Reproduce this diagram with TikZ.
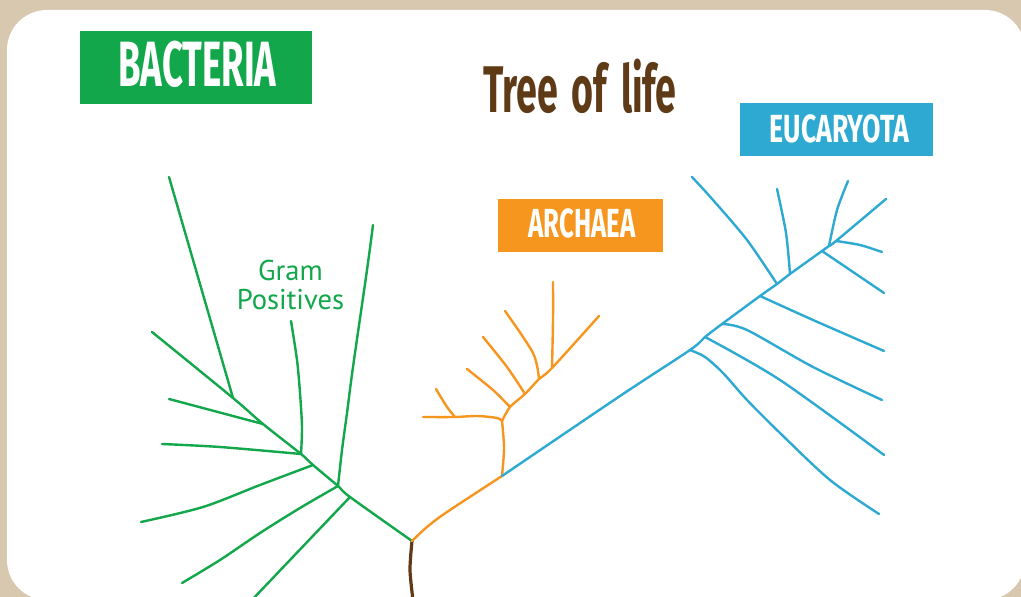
\documentclass[tikz,border=0pt]{standalone}
\usepackage{fontspec}
\setmainfont{PT Sans}
\newfontfamily\tagfont[FakeStretch=0.57]{Fira Sans}
\definecolor{paperbeige}{HTML}{D8C8B0}
\definecolor{bactgreen}{HTML}{12A74B}
\definecolor{archorange}{HTML}{F7961F}
\definecolor{eucblue}{HTML}{2EAAD2}
\definecolor{rootbrown}{HTML}{5E3A16}
\tikzset{
  bact/.style={bactgreen, line width=1.2pt, line cap=round, line join=round},
  arch/.style={archorange, line width=1.2pt, line cap=round, line join=round},
  euk/.style={eucblue, line width=1.2pt, line cap=round, line join=round},
  tagtext/.style={text=white, inner sep=0pt, anchor=base}
}
\newcommand{\kingdomtag}[8]{%
  \fill[#2] (#3) rectangle (#4);
  \node[tagtext, font=\tagfont\bfseries\addfontfeatures{FakeStretch=#7}\fontsize{#6}{#6}\selectfont]
    (#1) at (#5) {#8};
}

\begin{document}
\begin{tikzpicture}[x=0.5pt, y=-0.5pt]
  % ---------- Paper and panel ----------
  \fill[paperbeige] (0,0) rectangle (1021,597);
  \useasboundingbox (0,0) rectangle (1021,597);
  \fill[white, rounded corners=20pt] (7,10) rectangle (1025,600);

  % ---------- Labels ----------
  \node[font=\tagfont\bfseries\fontsize{33}{33}\selectfont,
    text=rootbrown, anchor=base, inner sep=0pt] (treetitle) at (580,113)
    {Tree\hspace{2.5pt} of\hspace{2.5pt} li{}fe};
  \kingdomtag{bacteria}{bactgreen}{80,31}{312,104}{197.5,87}{32}{0.57}{BACTERIA}
  \kingdomtag{eucaryota}{eucblue}{740,103}{933,156}{839.5,143}{19.6}{0.68}{EUCARYOTA}
  \kingdomtag{archaea}{archorange}{498,199}{663,252}{582,238}{20.3}{0.635}{ARCHAEA}
  \node[font=\fontsize{14.3}{14.5}\selectfont, text=bactgreen, align=center]
    (grampos) at (290.5,285) {Gram\\Positives};

  % ---------- Root ----------
  \coordinate (root) at (412,541);
  \draw[rootbrown, line width=1.6pt] plot[smooth] coordinates {(root) (410,570) (413,600)};

  % ---------- Bacteria ----------
  \coordinate (g6) at (350,497);
  \coordinate (g5) at (338,486);
  \coordinate (g4) at (313,465);
  \coordinate (g3) at (301,454);
  \coordinate (g2) at (263,424);
  \coordinate (g1) at (233,398);
  \coordinate (gtip) at (152,332);
  \draw[bact] plot[smooth] coordinates {(root) (g6) (g5) (g4) (g3) (g2) (g1) (gtip)};
  \draw[bact] (g1) -- (169,177);
  \draw[bact] (g2) -- (169,399);
  \draw[bact] plot[smooth] coordinates {(g3) (302,427) (300,393) (297,360) (291,321)};
  \draw[bact] plot[smooth] coordinates {(g3) (220,447) (162,444)};
  \draw[bact] plot[smooth] coordinates {(g4) (260,485) (203,507) (141,522)};
  \draw[bact] plot[smooth] coordinates {(g5) (342,450) (347,413) (353,367) (367,270) (373,225)};
  \draw[bact] plot[smooth] coordinates {(g5) (300,508) (260,533) (220,560) (182,583)};
  \draw[bact] (g6) -- (250,602);

  % ---------- Archaea ----------
  \coordinate (a1) at (502,476);
  \coordinate (a2) at (502,421);
  \coordinate (a3) at (455,417);
  \coordinate (b1) at (510,407);
  \coordinate (b2) at (525,394);
  \coordinate (b3) at (539,379);
  \coordinate (b4) at (552,368);
  \draw[arch] plot[smooth] coordinates {(root) (427,527) (447,512) (a1)};
  \draw[arch] plot[smooth] coordinates {(a1) (504,448) (a2)};
  \draw[arch] plot[smooth] coordinates {(a2) (497,418) (477,416) (a3) (423,417)};
  \draw[arch] plot[smooth] coordinates {(a3) (447,407) (436,389)};
  \draw[arch] plot[smooth] coordinates {(a2) (b1) (b2) (b3) (b4) (599,316)};
  \draw[arch] plot[smooth] coordinates {(b1) (493,390) (467,369)};
  \draw[arch] plot[smooth] coordinates {(b2) (507,367) (483,337)};
  \draw[arch] plot[smooth] coordinates {(b3) (533,353) (505,311)};
  \draw[arch] plot[smooth] coordinates {(b4) (553,320) (553,282)};

  % ---------- Eucaryota ----------
  \coordinate (e1) at (690,350);
  \coordinate (e2) at (705,337);
  \coordinate (e3) at (722,324);
  \coordinate (e4) at (760,296);
  \coordinate (e5) at (777,284);
  \coordinate (e6) at (790,274);
  \coordinate (e7) at (822,251);
  \coordinate (e8) at (829,246);
  \coordinate (e9) at (836,241);
  \draw[euk] plot[smooth] coordinates {(a1) (620,396) (e1) (e2) (e3) (e4) (e5) (e6) (e7) (e8) (e9) (886,199)};
  \draw[euk] plot[smooth] coordinates {(e1) (705,357) (723,373) (747,400) (780,433) (830,480) (879,514)};
  \draw[euk] plot[smooth] coordinates {(e2) (780,380) (884,455)};
  \draw[euk] plot[smooth] coordinates {(e3) (747,330) (813,367) (882,400)};
  \draw[euk] plot[smooth] coordinates {(e4) (813,320) (884,351)};
  \draw[euk] plot[smooth] coordinates {(e5) (747,240) (713,200) (692,177)};
  \draw[euk] plot[smooth] coordinates {(e6) (786,233) (777,189)};
  \draw[euk] (e7) -- (884,293);
  \draw[euk] plot[smooth] coordinates {(e8) (837,210) (848,181)};
  \draw[euk] plot[smooth] coordinates {(e9) (860,245) (882,252)};
\end{tikzpicture}
\end{document}
